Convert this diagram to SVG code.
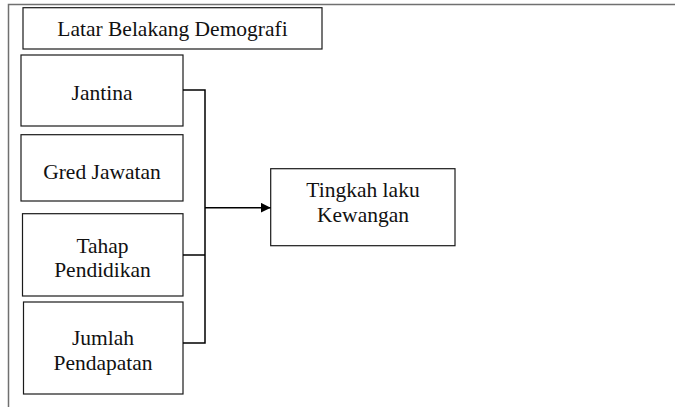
<svg xmlns="http://www.w3.org/2000/svg" width="675" height="407" viewBox="0 0 675 407">
  <style>
    .frame { fill: none; stroke: #707070; stroke-width: 1.5; }
    .box { fill: #ffffff; stroke: #1a1a1a; stroke-width: 1.2; }
    .lbl { font-family: 'Liberation Serif', 'DejaVu Serif', serif; font-size: 21.5px; fill: #111111; text-anchor: middle; }
    .wire { fill: none; stroke: #000000; stroke-width: 1.5; }
  </style>
  <defs>
    <marker id="arrow" markerWidth="10" markerHeight="10" refX="10" refY="5" orient="auto" markerUnits="userSpaceOnUse">
      <path d="M0,0 L10,5 L0,10 Z" fill="#000000"/>
    </marker>
  </defs>

  <!-- outer frame: top and left rules -->
  <path class="frame" d="M8.5,407 L8.5,4.5 L675,4.5"/>

  <g id="header">
    <rect class="box" x="23" y="7.7" width="299" height="41.3"/>
    <text class="lbl" x="172.5" y="36">Latar Belakang Demografi</text>
  </g>

  <g id="jantina">
    <rect class="box" x="21" y="55" width="162" height="71"/>
    <text class="lbl" x="102" y="100">Jantina</text>
  </g>

  <g id="gred">
    <rect class="box" x="21" y="134.7" width="162" height="66.3"/>
    <text class="lbl" x="102" y="179">Gred Jawatan</text>
  </g>

  <g id="tahap">
    <rect class="box" x="22.5" y="213.7" width="160.5" height="82.3"/>
    <text class="lbl" x="102.5" y="253.3">Tahap</text>
    <text class="lbl" x="102.5" y="276.7">Pendidikan</text>
  </g>

  <g id="jumlah">
    <rect class="box" x="23.5" y="302" width="159.5" height="92"/>
    <text class="lbl" x="103" y="345">Jumlah</text>
    <text class="lbl" x="103" y="370">Pendapatan</text>
  </g>

  <g id="tingkah">
    <rect class="box" x="270.7" y="168.7" width="184.3" height="77"/>
    <text class="lbl" x="363" y="196.7">Tingkah laku</text>
    <text class="lbl" x="363" y="221.7">Kewangan</text>
  </g>

  <g id="connectors">
    <path class="wire" d="M183,90 L205,90 L205,343 L183,343"/>
    <path class="wire" d="M183,255 L205,255"/>
    <path class="wire" d="M205,207.7 L270.7,207.7" marker-end="url(#arrow)"/>
  </g>
</svg>
